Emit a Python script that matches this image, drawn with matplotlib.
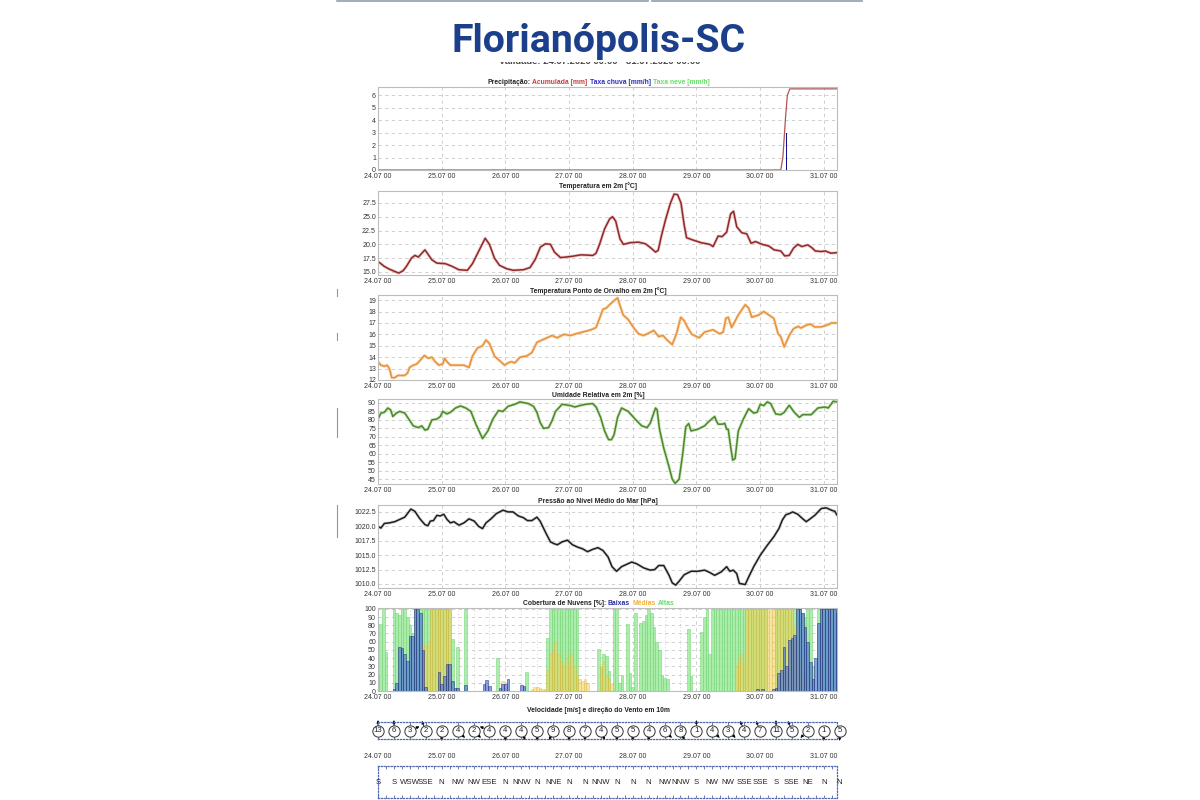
import matplotlib
matplotlib.use("Agg")
import matplotlib.pyplot as plt
import matplotlib.transforms as mtransforms
from matplotlib.lines import Line2D
from matplotlib.patches import Rectangle
from matplotlib.offsetbox import TextArea, HPacker, AnchoredOffsetbox
import numpy as np

plt.rcParams["font.family"] = ["Liberation Sans", "DejaVu Sans"]

# ---- data (hours since 24.07 00) ----
day_labels = ["24.07 00", "25.07 00", "26.07 00", "27.07 00",
              "28.07 00", "29.07 00", "30.07 00", "31.07 00"]

precip_acc_h = [0, 151.8, 152.6, 153.6, 154.3, 155.2, 174]
precip_acc_v = [0, 0, 1.0, 4.2, 6.0, 6.5, 6.5]
rain_rate_h = [153.9]
rain_rate_v = [3.0]

temp_h = [0, 2.4, 4.3, 6.3, 7.8, 9.4, 10.7, 12.6, 13.9, 15.2, 17.7, 20.3, 22.2, 25.4, 28, 30.5,
          33.7, 35.6, 38.2, 40.4, 42, 43.9, 45.8, 48.4, 51, 54.8, 57.3, 59.3, 61.2, 63.1, 65,
          66.5, 68.8, 72.7, 76.5, 81, 82.2, 83.5, 85.4, 87.3, 88.4, 89.6, 91.2, 92.5, 95, 98.2,
          100.8, 102.7, 104.6, 105.6, 106.8, 108.4, 110.1, 111.6, 112.9, 114.2, 115.4, 116.3,
          118.6, 121.8, 125, 126.3, 128.2, 129.7, 131.4, 132.9, 134, 135.2, 137.1, 139, 140.6,
          142.3, 144.8, 147.3, 149.3, 151.8, 153.3, 155, 156.6, 158.2, 159.7, 162, 163.5, 164.8,
          167.1, 168.6, 170.7, 173]
temp_v = [16.9, 16.0, 15.5, 15.1, 14.8, 15.2, 16.0, 17.5, 18.0, 17.7, 19.0, 17.2, 16.6, 16.5,
          16.0, 15.4, 15.3, 16.5, 19.0, 21.1, 20.0, 17.5, 16.2, 15.6, 15.3, 15.4, 15.8, 17.3,
          19.5, 20.1, 20.0, 18.6, 17.6, 17.8, 18.1, 18.0, 18.4, 20.0, 22.8, 24.6, 25.0, 24.2,
          21.0, 20.0, 20.3, 20.4, 20.1, 19.4, 18.6, 18.9, 21.5, 24.5, 27.3, 29.1, 29.0, 27.5,
          23.5, 21.2, 20.8, 20.3, 20.0, 19.6, 21.5, 21.4, 22.2, 25.5, 26.0, 23.2, 22.1, 21.9,
          20.2, 20.5, 20.0, 19.7, 19.0, 18.8, 17.9, 18.0, 19.3, 20.0, 19.6, 19.9, 19.4, 18.8,
          18.7, 18.8, 18.4, 18.5]

dew_h = [0, 1.1, 2.4, 3.4, 4.3, 5.2, 6.3, 7.5, 10.1, 11.1, 11.9, 13.3, 14.6, 15.8, 17.5, 19.0,
         20.3, 21.6, 22.9, 24.4, 25.1, 26.0, 27.3, 29.9, 32.4, 34.3, 35.6, 37.5, 39.4, 40.7,
         42.0, 43.9, 45.8, 47.7, 49.0, 50.3, 51.6, 53.5, 56.0, 58.0, 59.9, 61.8, 63.7, 65.6,
         67.5, 70.1, 72.6, 74.6, 77.1, 80.3, 82.2, 83.5, 84.8, 86.0, 87.3, 89.2, 90.3, 91.1,
         92.4, 94.3, 96.3, 98.2, 100.1, 102.0, 103.9, 105.8, 107.4, 109.0, 110.9, 112.5, 114.1,
         115.4, 116.7, 118.3, 121.1, 123.1, 126.3, 128.8, 130.1, 131.1, 132.0, 133.3, 135.8,
         138.4, 139.7, 140.9, 143.5, 145.4, 147.3, 149.2, 150.8, 151.8, 153.1, 155.0, 156.6,
         158.4, 159.4, 161.4, 163.0, 164.6, 167.1, 169.7, 170.9, 172.9]
dew_v = [13.6, 13.3, 13.2, 13.3, 13.0, 12.2, 12.2, 12.4, 12.4, 12.6, 13.1, 13.3, 13.4, 13.7,
         14.15, 13.9, 14.0, 13.6, 13.3, 13.4, 13.9, 13.6, 13.3, 13.3, 13.3, 13.1, 14.1, 14.8,
         15.0, 15.5, 15.2, 14.1, 13.7, 13.3, 13.5, 13.6, 13.5, 14.0, 14.1, 14.4, 15.3, 15.5,
         15.7, 15.9, 15.7, 16.0, 15.9, 16.05, 16.2, 16.4, 16.6, 17.4, 18.2, 18.3, 18.6, 19.0,
         19.2, 18.6, 17.7, 17.3, 16.6, 16.05, 15.9, 16.1, 16.35, 15.8, 15.9, 15.5, 15.1, 16.05,
         17.5, 17.2, 16.6, 16.0, 15.7, 16.2, 16.4, 16.05, 16.2, 17.4, 17.5, 16.6, 17.7, 18.6,
         18.3, 17.5, 17.7, 18.0, 17.7, 17.4, 16.05, 15.8, 14.9, 15.9, 16.5, 16.7, 16.55, 16.8,
         16.9, 16.65, 16.65, 16.85, 17.0, 17.0]

rh_h = [0, 1.1, 2.4, 3.7, 4.7, 5.6, 6.9, 8.2, 10.1, 11.6, 13.3, 15.2, 16.5, 17.7, 18.8, 20.3,
        22.2, 23.5, 24.4, 26.0, 27.3, 29.2, 31.1, 33.1, 35.0, 36.9, 39.4, 41.4, 43.3, 45.4,
        47.1, 49.0, 51.6, 53.5, 56.7, 58.6, 59.9, 61.1, 62.4, 64.3, 65.6, 66.9, 69.4, 72.6,
        74.2, 76.5, 78.4, 80.9, 82.2, 83.9, 85.4, 86.9, 88.0, 89.0, 90.3, 91.8, 94.3, 96.9,
        99.4, 101.4, 102.6, 104.6, 105.2, 106.1, 107.7, 109.7, 110.9, 112.0, 113.5, 114.8,
        116.0, 117.1, 118.0, 120.5, 123.1, 124.3, 126.9, 127.5, 128.2, 129.8, 130.7, 131.4,
        132.0, 132.9, 133.7, 134.6, 135.8, 137.7, 139.7, 141.6, 142.9, 144.1, 145.4, 146.7,
        148.0, 149.9, 151.8, 153.1, 155.0, 156.9, 158.8, 160.1, 163.3, 165.8, 168.4, 169.7,
        171.6, 172.9]
rh_v = [80.5, 84, 84.5, 87, 86, 82, 84, 85, 84, 80.5, 76.5, 75.5, 76.5, 74, 74.5, 80, 80.5,
        82, 85, 83.5, 84.5, 87, 88.2, 87, 85, 77.5, 69, 73.5, 80.5, 85.5, 85, 88, 89.2, 90.6,
        89.6, 88, 84.5, 78.5, 75, 75.5, 79.5, 85, 89.2, 88.4, 87.6, 88.6, 89.2, 89.6, 87.6,
        81.5, 73.5, 68.4, 68.4, 71.4, 81.5, 87, 85, 80.5, 76.5, 75.5, 78, 87, 86, 74.5, 63.4,
        52.3, 45.2, 42.6, 45.2, 59.4, 75.9, 77.9, 73.5, 74.5, 76.5, 78.5, 82, 79.5, 77.5, 77.5,
        78, 74.5, 74.5, 64.4, 56.3, 57.3, 73.5, 80.5, 86.6, 84, 84.5, 89.2, 88.4, 90.6, 89.6,
        83.5, 83.1, 84.5, 88.6, 84.5, 81.5, 83.1, 83.1, 87, 87.6, 87, 91, 90.6]

pres_h = [0, 1.1, 2.4, 4.3, 6.3, 8.2, 10.1, 12.4, 13.9, 15.8, 17.7, 18.8, 19.7, 20.9, 22.2,
          23.5, 24.8, 26.0, 27.3, 28.6, 30.5, 32.4, 34.3, 36.3, 37.9, 39.4, 40.7, 42.6, 44.6,
          47.1, 49.0, 50.9, 52.9, 54.8, 56.3, 58.0, 59.9, 61.1, 63.1, 65.0, 66.3, 67.6, 69.4,
          71.4, 73.3, 75.2, 77.1, 79.0, 80.9, 82.9, 84.8, 86.7, 88.2, 89.9, 91.8, 93.7, 95.6,
          97.5, 100.1, 102.6, 104.3, 105.8, 107.7, 109.7, 110.9, 112.2, 113.7, 115.4, 118.0,
          120.5, 123.1, 125.0, 126.9, 129.4, 131.4, 132.6, 133.9, 135.2, 136.2, 138.4, 139.7,
          141.6, 144.1, 146.7, 149.2, 151.1, 152.4, 153.7, 155.0, 156.3, 158.2, 160.1, 161.4,
          162.6, 164.6, 167.1, 169.0, 170.9, 172.2, 172.9]
pres_v = [1020.0, 1019.7, 1020.5, 1020.6, 1020.8, 1021.2, 1021.6, 1023.0, 1022.6, 1021.3,
          1020.3, 1020.1, 1020.9, 1021.0, 1021.9, 1021.8, 1022.1, 1021.2, 1020.6, 1020.8,
          1020.2, 1020.6, 1021.3, 1020.9, 1020.0, 1019.6, 1020.6, 1021.3, 1022.2, 1022.8,
          1022.5, 1022.5, 1021.8, 1021.5, 1021.0, 1021.0, 1021.6, 1020.9, 1019.0, 1017.3,
          1017.0, 1016.8, 1017.3, 1017.6, 1016.8, 1016.4, 1016.1, 1015.6, 1016.0, 1016.3,
          1015.8, 1014.7, 1013.0, 1012.2, 1013.0, 1013.4, 1013.8, 1013.5, 1012.8, 1012.4,
          1012.5, 1013.2, 1013.2, 1011.5, 1010.2, 1009.8, 1010.6, 1011.6, 1012.2, 1012.2,
          1012.4, 1012.0, 1011.5, 1012.1, 1013.0, 1012.2, 1012.4, 1011.8, 1010.1, 1009.9,
          1011.2, 1013.0, 1015.0, 1016.7, 1018.2, 1019.6, 1021.1, 1022.0, 1022.2, 1022.5,
          1022.1, 1021.3, 1020.8, 1021.2, 1021.9, 1023.1, 1023.2, 1022.8, 1022.6, 1022.0]

# hourly cloud cover [%], one row per day
cloud_high = (
    [20, 82, 100, 48, 0, 0, 100, 95, 93, 100, 100, 90, 80, 70, 100, 100, 100, 100, 100, 100, 100, 100, 100, 100]
    + [100, 100, 100, 100, 63, 0, 53, 0, 0, 100, 0, 0] + [0] * 9 + [40, 0, 0]
    + [0] * 8 + [23] + [0] * 7 + [65] + [100] * 7
    + [100, 100, 100, 100] + [0] * 7 + [51, 28, 45, 43, 24, 0, 100, 100, 10, 20, 0, 82, 22]
    + [5, 95, 0, 83, 85, 93, 100, 95, 78, 60, 50, 20, 16, 15] + [0] * 7 + [75, 18, 0]
    + [0, 0, 72, 90, 100, 45] + [100] * 18
    + [100, 100, 100, 0, 0, 0] + [100] * 10 + [95, 90, 100, 100, 30, 0, 100, 100]
    + [100] * 6
)
cloud_mid = (
    [0] * 17 + [57, 55, 60] + [100] * 4
    + [100] * 4 + [0] * 19 + [12]
    + [0] * 10 + [3, 5, 5, 4, 3, 3, 25, 45, 50, 60, 45, 35, 30, 40]
    + [30, 45, 30, 20, 15, 12, 15, 10] + [0] * 4 + [30, 35, 20, 15, 8] + [0] * 7
    + [0] * 24
    + [0] * 15 + [30, 40, 45, 35] + [100] * 5
    + [100] * 13 + [80, 60, 40, 20] + [0] * 7
    + [0] * 6
)
cloud_low = (
    [0] * 6 + [3, 10, 53, 52, 45, 36, 67, 67, 100, 100, 95, 50, 5] + [0] * 4 + [23]
    + [8, 18, 33, 33, 12, 4, 4, 0, 0, 7] + [0] * 6 + [8, 13, 6, 0, 0, 0, 4, 9]
    + [9, 15, 0, 0, 0, 0, 7, 6] + [0] * 16
    + [0] * 24
    + [0] * 24
    + [0] * 23 + [3]
    + [0, 2, 0, 0, 0, 2, 4, 22, 25, 53, 30, 62, 65, 68, 100, 100, 95, 78, 60, 35, 15, 40, 83, 100]
    + [100, 100, 100, 100, 100, 95]
)

wind_h = list(range(0, 175, 6))
wind_speed = [13, 6, 3, 2, 2, 4, 2, 4, 4, 4, 5, 9, 8, 7, 4, 5, 5, 4, 6, 8, 1, 4, 3, 4, 7, 11, 5, 2, 1, 5]
wind_dir = ["S", "S", "WSW", "SSE", "N", "NW", "NW", "ESE", "N", "NNW", "N", "NNE", "N", "N", "NNW",
            "N", "N", "N", "NW", "NNW", "S", "NW", "NW", "SSE", "SSE", "S", "SSE", "NE", "N", "N"]
compass = {"N": 0, "NNE": 22.5, "NE": 45, "ESE": 112.5, "SSE": 157.5, "S": 180,
           "WSW": 247.5, "NW": 315, "NNW": 337.5}

# ---- layout ----
W, H = 1200, 800
XMAX = 173
DAY_TICKS = [0, 24, 48, 72, 96, 120, 144, 168]
LEFT, RIGHT = 378, 837
GRID = "#c8c8c8"
TICK = "#333333"
DOT = "#5468b0"
TITLE_X = 0.48
TSIZE = 4.9


def rect(top, bottom):
    return [LEFT / W, 1 - bottom / H, (RIGHT - LEFT) / W, (bottom - top) / H]


def style_axes(ax, ylim, yticks, fmt):
    ax.set_xlim(0, XMAX)
    ax.set_ylim(*ylim)
    ax.set_xticks(DAY_TICKS)
    ax.set_xticklabels(day_labels)
    ax.set_yticks(yticks)
    ax.set_yticklabels([fmt.format(v) for v in yticks])
    ax.tick_params(length=0, labelsize=5, colors=TICK, pad=1.5)
    ax.tick_params(axis="x", pad=2.5)
    ax.grid(True, color=GRID, ls=(0, (4, 4)), lw=0.6)
    ax.set_axisbelow(True)
    for s in ax.spines.values():
        s.set_color("#bdbdbd")
        s.set_linewidth(0.8)


def panel_title(ax, text, pad=1.5):
    ax.set_title(text, fontsize=TSIZE, fontweight="bold", color="#222222", pad=pad, x=TITLE_X)


def multi_title(ax, parts):
    boxes = [TextArea(t, textprops=dict(color=c, fontsize=TSIZE, fontweight="bold")) for t, c in parts]
    pack = HPacker(children=boxes, align="baseline", pad=0, sep=1.5)
    ab = AnchoredOffsetbox(loc="lower center", child=pack, pad=0, borderpad=0, frameon=False,
                           bbox_to_anchor=(TITLE_X, 1.015), bbox_transform=ax.transAxes)
    ax.add_artist(ab)


fig = plt.figure(figsize=(12, 8), dpi=100)

# page header
fig.add_artist(Line2D([337 / W, 648 / W], [1 - 1 / H] * 2, color="#90a0aa", lw=1.2))
fig.add_artist(Line2D([652 / W, 862 / W], [1 - 1 / H] * 2, color="#90a0aa", lw=1.2))
fig.text(0.5, 1 - 62 / H, "Validade: 24.07.2020 00:00 - 31.07.2020 00:00", ha="center", va="center",
         fontsize=6.8, fontweight="bold", color="#444444", zorder=1)
fig.add_artist(Rectangle((420 / W, 1 - 61.5 / H), 360 / W, 55 / H, transform=fig.transFigure,
                         facecolor="white", edgecolor="none", zorder=2))
fig.text(0.499, 1 - 41 / H, "Florianópolis-SC", ha="center", va="center", fontsize=28.3,
         fontweight="bold", color="#1b3f8b", family=["Roboto", "DejaVu Sans"], zorder=3)
for y0, y1 in [(289, 296), (333, 340), (408, 437), (505, 537)]:
    fig.add_artist(Line2D([336.5 / W] * 2, [1 - y0 / H, 1 - y1 / H], color="#8a9aa0", lw=0.8))

# precipitation
ax1 = fig.add_axes(rect(87, 170))
style_axes(ax1, (0, 6.65), [0, 1, 2, 3, 4, 5, 6], "{:d}")
ax1.plot(precip_acc_h, precip_acc_v, color="#b05555", lw=0.9)
ax1.bar(rain_rate_h, rain_rate_v, width=0.55, color="#10108a", zorder=3)
multi_title(ax1, [("Precipitação:", "#222222"), ("Acumulada [mm]", "#c83c3c"),
                  ("Taxa chuva [mm/h]", "#2f2fc0"), ("Taxa neve [mm/h]", "#66e066")])

# temperature
ax2 = fig.add_axes(rect(190.5, 275))
style_axes(ax2, (14.45, 29.75), [15, 17.5, 20, 22.5, 25, 27.5], "{:.1f}")
ax2.plot(temp_h, temp_v, color="#e8b0b0", lw=2.2, alpha=0.7)
ax2.plot(temp_h, temp_v, color="#8e2a2a", lw=1.1)
panel_title(ax2, "Temperatura em 2m [°C]")

# dew point
ax3 = fig.add_axes(rect(295, 380))
style_axes(ax3, (12, 19.45), [12, 13, 14, 15, 16, 17, 18, 19], "{:d}")
ax3.plot(dew_h, dew_v, color="#f6d2a8", lw=2.2, alpha=0.8)
ax3.plot(dew_h, dew_v, color="#e8923a", lw=1.1)
panel_title(ax3, "Temperatura Ponto de Orvalho em 2m [°C]")

# relative humidity
ax4 = fig.add_axes(rect(399, 484))
style_axes(ax4, (42.3, 92.3), list(range(45, 91, 5)), "{:d}")
ax4.plot(rh_h, rh_v, color="#b8d8a0", lw=2.2, alpha=0.7)
ax4.plot(rh_h, rh_v, color="#4a8a2a", lw=1.1)
panel_title(ax4, "Umidade Relativa em 2m [%]")

# pressure
ax5 = fig.add_axes(rect(505, 588))
style_axes(ax5, (1009.3, 1023.7), [1010, 1012.5, 1015, 1017.5, 1020, 1022.5], "{:.1f}")
ax5.plot(pres_h, pres_v, color="#bbbbbb", lw=2.2, alpha=0.6)
ax5.plot(pres_h, pres_v, color="#1e1e1e", lw=1.1)
panel_title(ax5, "Pressão ao Nível Médio do Mar [hPa]")

# cloud cover
ax6 = fig.add_axes(rect(608, 691))
style_axes(ax6, (0, 101), list(range(0, 101, 10)), "{:d}")
ax6.set_xticks(range(0, XMAX + 1, 6), minor=True)
ax6.tick_params(which="minor", length=0)
ax6.grid(True, which="minor", axis="x", color=GRID, ls=(0, (1, 3)), lw=0.6)
hours = np.arange(len(cloud_high))
ax6.bar(hours, cloud_high, width=1.0, color="#9cec9c", edgecolor="#6fcf6f", lw=0.4, alpha=0.85, zorder=2)
ax6.bar(hours, cloud_mid, width=1.0, color="#f0d050", edgecolor="#e0b040", lw=0.4, alpha=0.55, zorder=3)
ax6.bar(hours, cloud_low, width=1.0, color="#4a70d8", edgecolor="#1c2470", lw=0.5, alpha=0.65, zorder=4)
multi_title(ax6, [("Cobertura de Nuvens [%]:", "#222222"), ("Baixas", "#2a2aa8"),
                  ("Médias", "#f0b040"), ("Altas", "#66dd66")])


def dotted_box(ax):
    ax.set_xlim(0, XMAX)
    ax.set_ylim(0, 1)
    ax.set_yticks([])
    for s in ax.spines.values():
        s.set_linestyle((0, (1, 1.5)))
        s.set_color(DOT)
        s.set_linewidth(0.9)


# wind speed
ax7 = fig.add_axes(rect(722, 739))
dotted_box(ax7)
ax7.set_xticks(DAY_TICKS)
ax7.set_xticklabels(day_labels)
ax7.tick_params(axis="x", length=0, labelsize=5, colors=TICK, pad=10)
ax7.set_xticks(range(0, XMAX + 1, 6), minor=True)
ax7.tick_params(axis="x", which="minor", direction="in", top=True, bottom=True, length=2, color=DOT)
panel_title(ax7, "Velocidade [m/s] e direção do Vento em 10m", pad=7)
for h, spd, d in zip(wind_h, wind_speed, wind_dir):
    ang = np.deg2rad(compass[d])
    dx, dy = -np.sin(ang) * 7.5, -np.cos(ang) * 7.5
    tip = mtransforms.offset_copy(ax7.transData, fig=fig, x=dx, y=dy, units="points")
    ax7.annotate("", xy=(h, 0.5), xycoords=tip, xytext=(h, 0.5), textcoords="data",
                 arrowprops=dict(arrowstyle="-|>", lw=0.6, color="black", mutation_scale=4,
                                 shrinkA=0, shrinkB=0), annotation_clip=False, zorder=2)
ax7.scatter(wind_h, [0.5] * len(wind_h), s=66, facecolor="white", edgecolor="#333333",
            lw=0.7, zorder=4, clip_on=False)
for h, spd in zip(wind_h, wind_speed):
    ax7.text(h, 0.5, str(spd), ha="center", va="center", fontsize=5.6, color="#222222",
             zorder=5, clip_on=False)

# wind direction
ax8 = fig.add_axes(rect(766, 798))
dotted_box(ax8)
ax8.set_xticks([])
ax8.set_xticks(range(0, XMAX + 1, 3), minor=True)
ax8.tick_params(axis="x", which="minor", direction="in", top=True, bottom=True, length=2,
                color=DOT, labelbottom=False)
for h, d in zip(wind_h, wind_dir):
    ax8.text(h, 0.5, d, ha="center", va="center", fontsize=5.6, color="#222222", clip_on=False)

fig.savefig("out.png", dpi=100, facecolor="white")
